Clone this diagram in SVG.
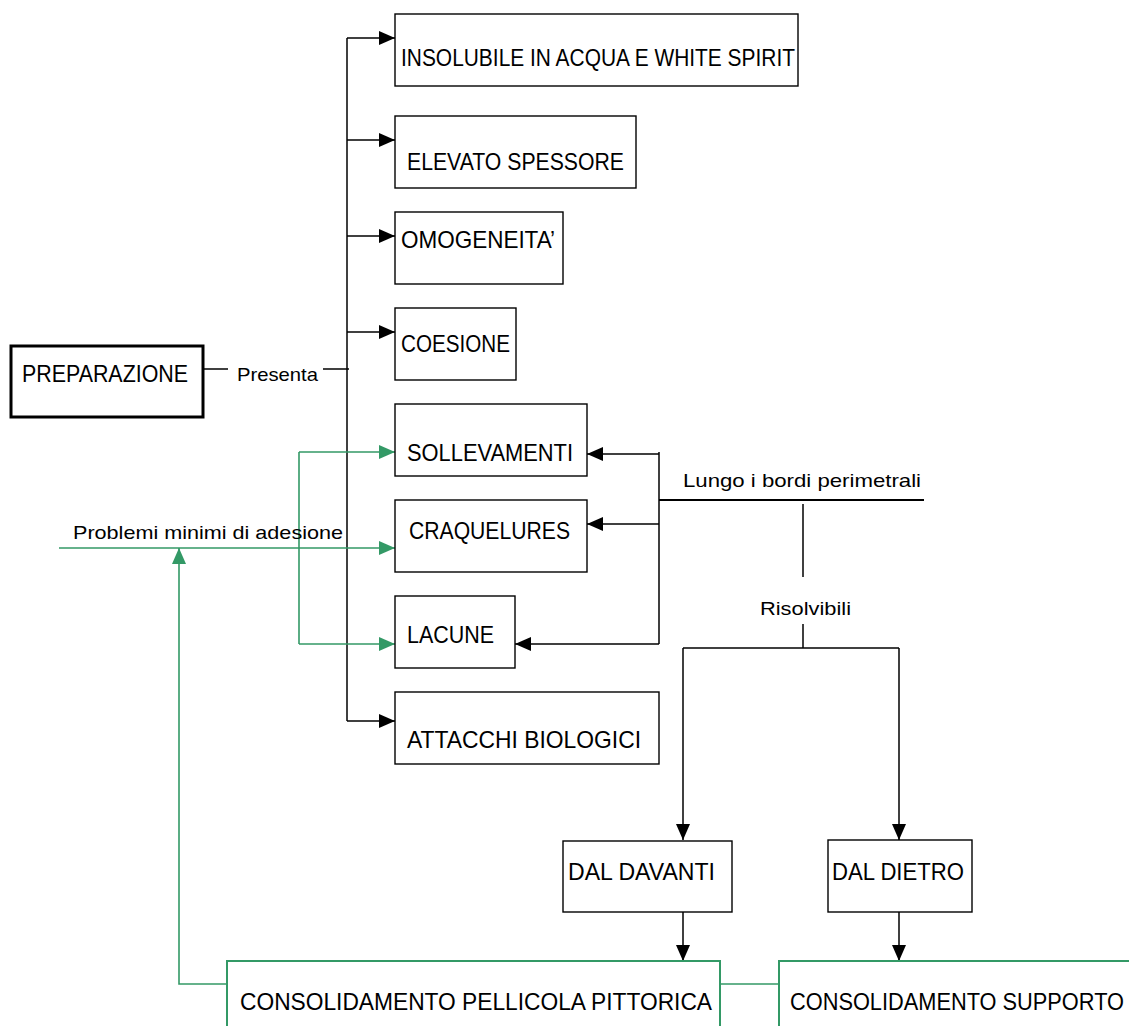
<svg xmlns="http://www.w3.org/2000/svg" width="1129" height="1026" viewBox="0 0 1129 1026">
<style>
.box{fill:#fff;stroke:#000;stroke-width:1.4}
.gbox{fill:#fff;stroke:#339966;stroke-width:2}
.t{font-family:"Liberation Sans",Arial,sans-serif;font-size:24px;fill:#000}
.s{font-family:"Liberation Sans",Arial,sans-serif;font-size:19px;fill:#000}
.ln{fill:none;stroke:#000;stroke-width:1.5}
.gl{fill:none;stroke:#339966;stroke-width:1.6}
</style>
<defs>
<marker id="ah" markerUnits="userSpaceOnUse" markerWidth="16" markerHeight="14" refX="16" refY="7" orient="auto"><path d="M0,0 L16,7 L0,14 z" fill="#000"/></marker>
<marker id="gh" markerUnits="userSpaceOnUse" markerWidth="16" markerHeight="14" refX="16" refY="7" orient="auto"><path d="M0,0 L16,7 L0,14 z" fill="#339966"/></marker>
</defs>
<g id="connectors">
<path class="ln" d="M203,369 H228"/>
<path class="ln" d="M323,369 H349"/>
<path class="ln" d="M347,38 V721"/>
<path class="ln" d="M347,38 H395" marker-end="url(#ah)"/>
<path class="ln" d="M347,140 H395" marker-end="url(#ah)"/>
<path class="ln" d="M347,236 H395" marker-end="url(#ah)"/>
<path class="ln" d="M347,332 H395" marker-end="url(#ah)"/>
<path class="ln" d="M347,721 H395" marker-end="url(#ah)"/>
<path class="ln" d="M659,452 V644"/>
<path class="ln" d="M659,454 H587" marker-end="url(#ah)"/>
<path class="ln" d="M659,524 H587" marker-end="url(#ah)"/>
<path class="ln" d="M659,644 H515" marker-end="url(#ah)"/>
<path class="ln" style="stroke-width:2" d="M659,500 H924"/>
<path class="ln" d="M803,504 V577"/>
<path class="ln" d="M803,624 V648"/>
<path class="ln" d="M683,648 H899"/>
<path class="ln" d="M683,648 V840" marker-end="url(#ah)"/>
<path class="ln" d="M899,648 V840" marker-end="url(#ah)"/>
<path class="ln" d="M683,912 V961" marker-end="url(#ah)"/>
<path class="ln" d="M899,912 V961" marker-end="url(#ah)"/>
<path class="gl" d="M299,452 V644"/>
<path class="gl" d="M299,452 H395" marker-end="url(#gh)"/>
<path class="gl" d="M59,548 H395" marker-end="url(#gh)"/>
<path class="gl" d="M299,644 H395" marker-end="url(#gh)"/>
<path class="gl" d="M227,984 H179 V548" marker-end="url(#gh)"/>
<path class="gl" d="M720,984 H779"/>
<text class="s" x="237" y="381" textLength="81" lengthAdjust="spacingAndGlyphs">Presenta</text>
<text class="s" x="73" y="539" textLength="270" lengthAdjust="spacingAndGlyphs">Problemi minimi di adesione</text>
<text class="s" x="683" y="487" textLength="238" lengthAdjust="spacingAndGlyphs">Lungo i bordi perimetrali</text>
<text class="s" x="760" y="615" textLength="91" lengthAdjust="spacingAndGlyphs">Risolvibili</text>
</g>
<g id="preparazione">
<rect x="11" y="346" width="192" height="71" fill="#fff" stroke="#000" stroke-width="3"/>
<text class="t" x="22" y="382" textLength="166" lengthAdjust="spacingAndGlyphs">PREPARAZIONE</text>
</g>
<g id="insolubile">
<rect class="box" x="395" y="14" width="403" height="72"/>
<text class="t" x="401" y="66" textLength="394" lengthAdjust="spacingAndGlyphs">INSOLUBILE IN ACQUA E WHITE SPIRIT</text>
</g>
<g id="elevato">
<rect class="box" x="395" y="116" width="241" height="72"/>
<text class="t" x="407" y="170" textLength="217" lengthAdjust="spacingAndGlyphs">ELEVATO SPESSORE</text>
</g>
<g id="omogeneita">
<rect class="box" x="395" y="212" width="168" height="72"/>
<text class="t" x="401" y="248" textLength="154" lengthAdjust="spacingAndGlyphs">OMOGENEITA’</text>
</g>
<g id="coesione">
<rect class="box" x="395" y="308" width="121" height="72"/>
<text class="t" x="401" y="352" textLength="109" lengthAdjust="spacingAndGlyphs">COESIONE</text>
</g>
<g id="sollevamenti">
<rect class="box" x="395" y="404" width="192" height="72"/>
<text class="t" x="407" y="461" textLength="166" lengthAdjust="spacingAndGlyphs">SOLLEVAMENTI</text>
</g>
<g id="craquelures">
<rect class="box" x="395" y="500" width="192" height="72"/>
<text class="t" x="409" y="539" textLength="161" lengthAdjust="spacingAndGlyphs">CRAQUELURES</text>
</g>
<g id="lacune">
<rect class="box" x="395" y="596" width="120" height="72"/>
<text class="t" x="407" y="643" textLength="87" lengthAdjust="spacingAndGlyphs">LACUNE</text>
</g>
<g id="attacchi">
<rect class="box" x="395" y="692" width="264" height="72"/>
<text class="t" x="407" y="748" textLength="234" lengthAdjust="spacingAndGlyphs">ATTACCHI BIOLOGICI</text>
</g>
<g id="davanti">
<rect class="box" x="563" y="841" width="169" height="71"/>
<text class="t" x="568" y="880" textLength="147" lengthAdjust="spacingAndGlyphs">DAL DAVANTI</text>
</g>
<g id="dietro">
<rect class="box" x="828" y="840" width="144" height="72"/>
<text class="t" x="832" y="880" textLength="132" lengthAdjust="spacingAndGlyphs">DAL DIETRO</text>
</g>
<g id="pellicola">
<rect class="gbox" x="227" y="961" width="493" height="80"/>
<text class="t" x="240" y="1010" textLength="472" lengthAdjust="spacingAndGlyphs">CONSOLIDAMENTO PELLICOLA PITTORICA</text>
</g>
<g id="supporto">
<rect class="gbox" x="779" y="961" width="380" height="80"/>
<text class="t" x="790" y="1010" textLength="334" lengthAdjust="spacingAndGlyphs">CONSOLIDAMENTO SUPPORTO</text>
</g>
</svg>
